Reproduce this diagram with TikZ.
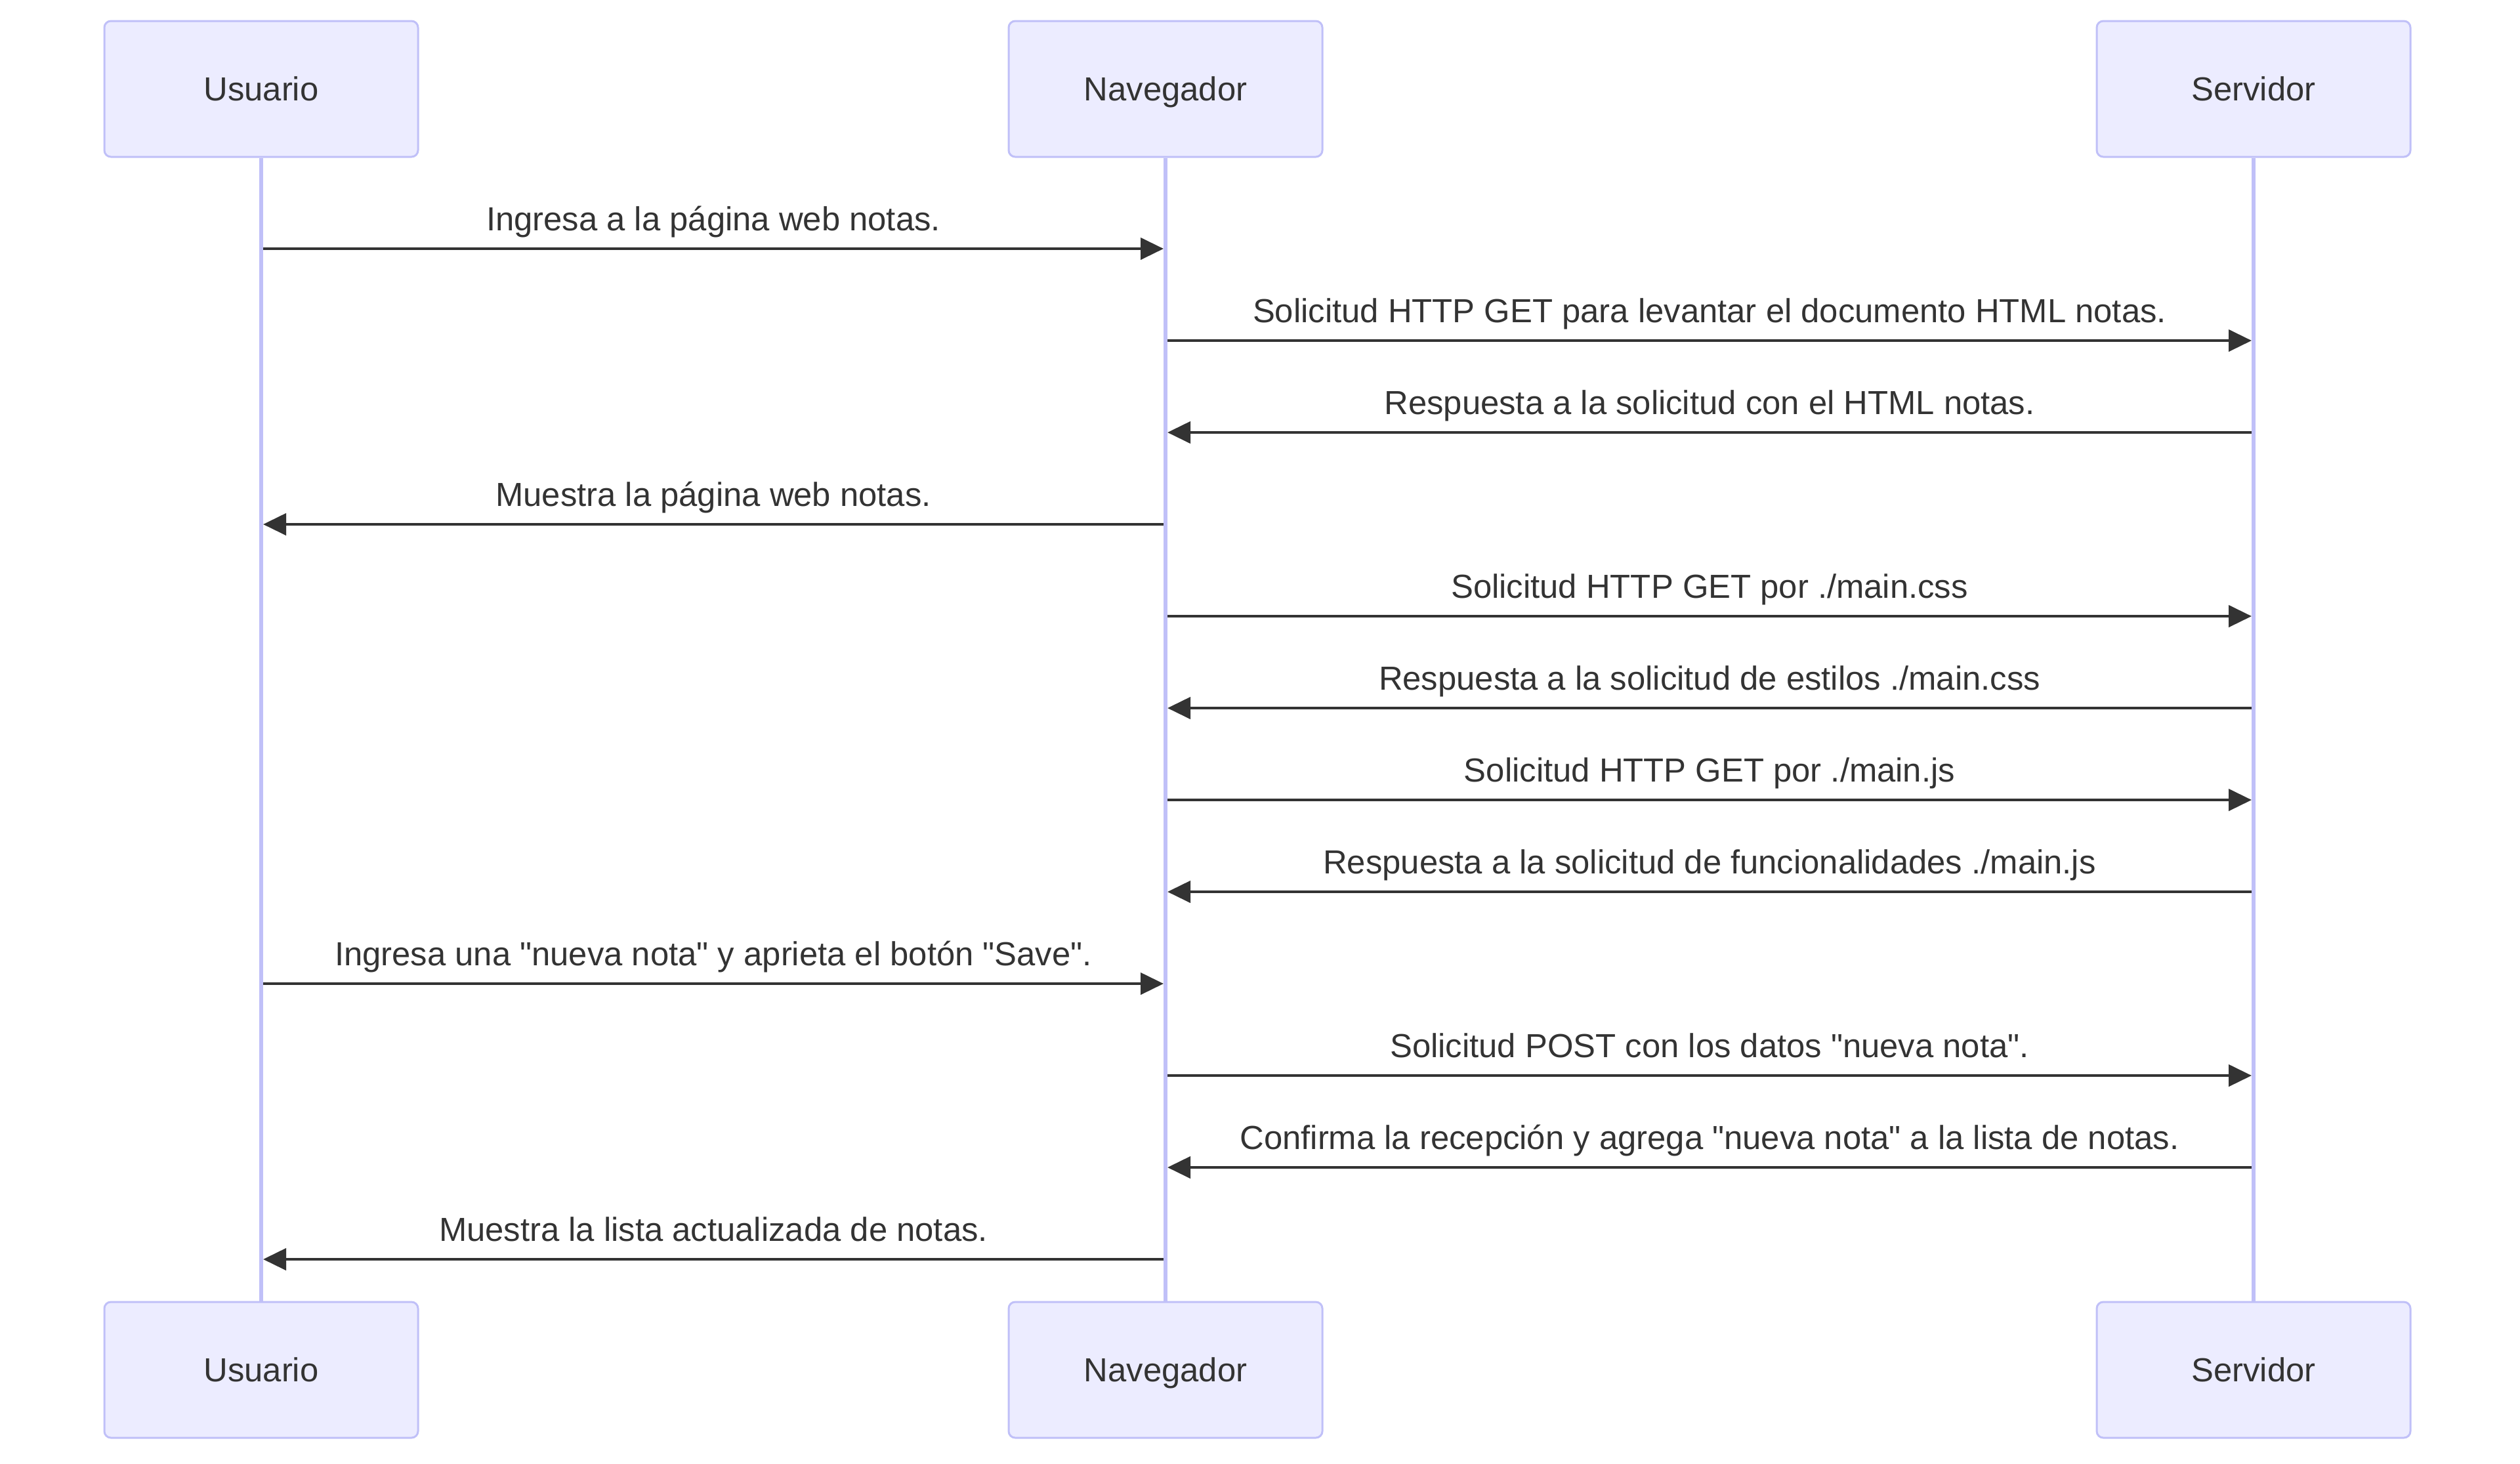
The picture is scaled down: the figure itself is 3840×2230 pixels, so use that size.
\documentclass[tikz,border=0pt]{standalone}
\usepackage{fontspec}
\setmainfont{Liberation Sans}[Ligatures=TeXOff]
\usetikzlibrary{arrows.meta}
\definecolor{actfill}{HTML}{ECECFF}
\definecolor{actline}{RGB}{192,192,248}
\definecolor{ink}{HTML}{333333}
\tikzset{
  actor/.style={draw=actline, fill=actfill, line width=0.75pt, rounded corners=2.5pt,
    minimum width=119.5pt, minimum height=51.75pt, inner sep=0pt, text=ink,
    font=\fontsize{12.7pt}{15pt}\selectfont, text height=9.1pt, text depth=0pt},
  life/.style={draw=actline, line width=1.3pt},
  msg/.style={draw=ink, line width=1.1pt, shorten >=0.75pt, shorten <=0.75pt,
    -{Triangle[length=8.75pt,width=8.25pt]}},
  lbl/.style={anchor=base, yshift=7pt, text=ink, inner sep=0pt,
    font=\fontsize{12.7pt}{15pt}\selectfont},
}
\begin{document}
\begin{tikzpicture}[x=0.25pt,y=-0.25pt]
\useasboundingbox (0,0) rectangle (3840,2230);
% actors
\node[actor] (uT) at (398,135.5) {Usuario};
\node[actor] (nT) at (1776,135.5) {Navegador};
\node[actor] (sT) at (3434,135.5) {Servidor};
\node[actor] (uB) at (398,2087.5) {Usuario};
\node[actor] (nB) at (1776,2087.5) {Navegador};
\node[actor] (sB) at (3434,2087.5) {Servidor};
% lifelines
\draw[life] (uT.south) -- (uB.north);
\draw[life] (nT.south) -- (nB.north);
\draw[life] (sT.south) -- (sB.north);
% message anchor points on lifelines
\foreach \i/\y in {1/379,2/519,3/659,4/799,5/939,6/1079,7/1219,8/1359,9/1499,10/1639,11/1779,12/1919}{
  \coordinate (u\i) at (uT |- 0,\y);
  \coordinate (n\i) at (nT |- 0,\y);
  \coordinate (s\i) at (sT |- 0,\y);
}
\draw[msg] (u1) -- node[lbl]{Ingresa a la página web notas.} (n1);
\draw[msg] (n2) -- node[lbl]{Solicitud HTTP GET para levantar el documento HTML notas.} (s2);
\draw[msg] (s3) -- node[lbl]{Respuesta a la solicitud con el HTML notas.} (n3);
\draw[msg] (n4) -- node[lbl]{Muestra la página web notas.} (u4);
\draw[msg] (n5) -- node[lbl]{Solicitud HTTP GET por ./main.css} (s5);
\draw[msg] (s6) -- node[lbl]{Respuesta a la solicitud de estilos ./main.css} (n6);
\draw[msg] (n7) -- node[lbl]{Solicitud HTTP GET por ./main.js} (s7);
\draw[msg] (s8) -- node[lbl]{Respuesta a la solicitud de funcionalidades ./main.js} (n8);
\draw[msg] (u9) -- node[lbl]{Ingresa una "nueva nota" y aprieta el botón "Save".} (n9);
\draw[msg] (n10) -- node[lbl]{Solicitud POST con los datos "nueva nota".} (s10);
\draw[msg] (s11) -- node[lbl]{Confirma la recepción y agrega "nueva nota" a la lista de notas.} (n11);
\draw[msg] (n12) -- node[lbl]{Muestra la lista actualizada de notas.} (u12);
\end{tikzpicture}
\end{document}
